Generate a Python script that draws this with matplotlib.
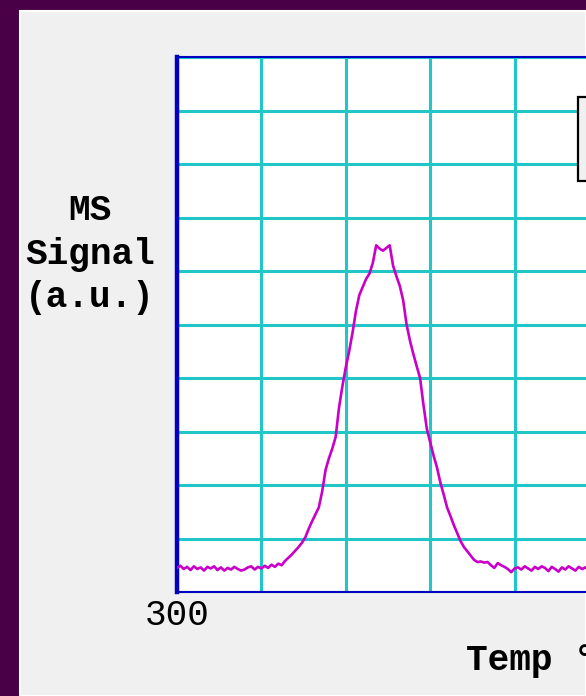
import matplotlib.pyplot as plt
from matplotlib.patches import Rectangle

# temperature samples (deg C) and MS signal
temps = list(range(300, 552, 2))
signal = [
    0.45, 0.49, 0.43, 0.47, 0.41, 0.48, 0.43, 0.46, 0.40, 0.47,
    0.44, 0.48, 0.41, 0.46, 0.40, 0.45, 0.42, 0.47, 0.43, 0.40,
    0.42, 0.46, 0.48, 0.42, 0.47, 0.44, 0.49, 0.45, 0.51, 0.47,
    0.53,
    0.50, 0.58, 0.64, 0.70, 0.77, 0.84, 0.92, 1.02, 1.18, 1.32,
    1.45, 1.58, 1.88, 2.28, 2.50, 2.68, 2.90, 3.45, 3.85, 4.20,
    4.50, 4.85, 5.25, 5.55, 5.70, 5.85, 5.95, 6.15, 6.48, 6.42,
    6.38, 6.43, 6.48, 6.10, 5.90, 5.72, 5.45, 5.00, 4.70, 4.45,
    4.22, 4.00, 3.50, 3.05, 2.80, 2.55, 2.33, 2.05, 1.82, 1.58,
    1.42, 1.25, 1.10, 0.95, 0.84, 0.76, 0.68, 0.60, 0.56, 0.57,
    0.55, 0.56, 0.50, 0.45, 0.54, 0.50, 0.47, 0.43, 0.37, 0.44,
    0.46,
    0.42, 0.48, 0.44, 0.40, 0.47, 0.43, 0.48, 0.45, 0.39, 0.47,
    0.43, 0.38, 0.46, 0.42, 0.48, 0.44, 0.40, 0.47, 0.43, 0.46,
    0.41, 0.47, 0.44, 0.43,
]
x_ticks = [300, 350, 400, 450, 500, 550]
x_labels = ['300', '', '', '', '', '']
y_ticks = list(range(0, 11))

W, H = 586, 696
fig = plt.figure(figsize=(W / 100, H / 100), dpi=100)
fig.patch.set_facecolor('#4a0046')

# light grey panel with a raised white edge, behind the axes
panel = Rectangle((20 / W, 0), 1 - 20 / W, 1 - 11 / H, transform=fig.transFigure,
                  facecolor='#f0f0f0', edgecolor='white', linewidth=1.5, zorder=-5)
fig.patches.append(panel)

mono = 'Liberation Mono'

ax_left, ax_bottom, ax_top = 177, 592, 57
ax_w = (x_ticks[-1] - x_ticks[0]) / 50 * 84.4
ax = fig.add_axes([ax_left / W, 1 - ax_bottom / H, ax_w / W, (ax_bottom - ax_top) / H])
ax.set_facecolor('white')

ax.plot(temps, signal, color='#c800c8', linewidth=1.9, zorder=3, label='MS Signal')

ax.set_xlim(x_ticks[0], x_ticks[-1])
ax.set_ylim(0, 10)
ax.set_xticks(x_ticks)
ax.set_xticklabels(x_labels, fontfamily=mono, fontsize=26)
ax.set_yticks(y_ticks)
ax.set_yticklabels([])
ax.tick_params(length=0, pad=4)
ax.grid(True, color='#22c6c6', linewidth=2.2, zorder=1)
ax.set_axisbelow(True)

for side, lw in [('left', 3.2), ('top', 1.5), ('bottom', 1.5), ('right', 1.5)]:
    ax.spines[side].set_color('#0000c0')
    ax.spines[side].set_linewidth(lw)

leg = ax.legend(loc='upper left', bbox_to_anchor=(578 / W, 1 - 97 / H),
                bbox_transform=fig.transFigure, prop={'family': mono, 'size': 26},
                frameon=True, fancybox=False, borderpad=0.68, borderaxespad=0,
                handlelength=1.5)
leg.get_frame().set_edgecolor('black')
leg.get_frame().set_linewidth(1.6)
leg.get_frame().set_facecolor('#f0f0f0')
leg.get_frame().set_alpha(1)

fig.text(90 / W, 1 - 254 / H, 'MS\nSignal\n(a.u.)', ha='center', va='center',
         multialignment='center', fontfamily=mono, fontweight='bold', fontsize=26,
         linespacing=1.32)
fig.text(466 / W, 1 - 660 / H, 'Temp °C', ha='left', va='center',
         fontfamily=mono, fontweight='bold', fontsize=26)

fig.savefig('out.png', dpi=100, facecolor=fig.get_facecolor())
